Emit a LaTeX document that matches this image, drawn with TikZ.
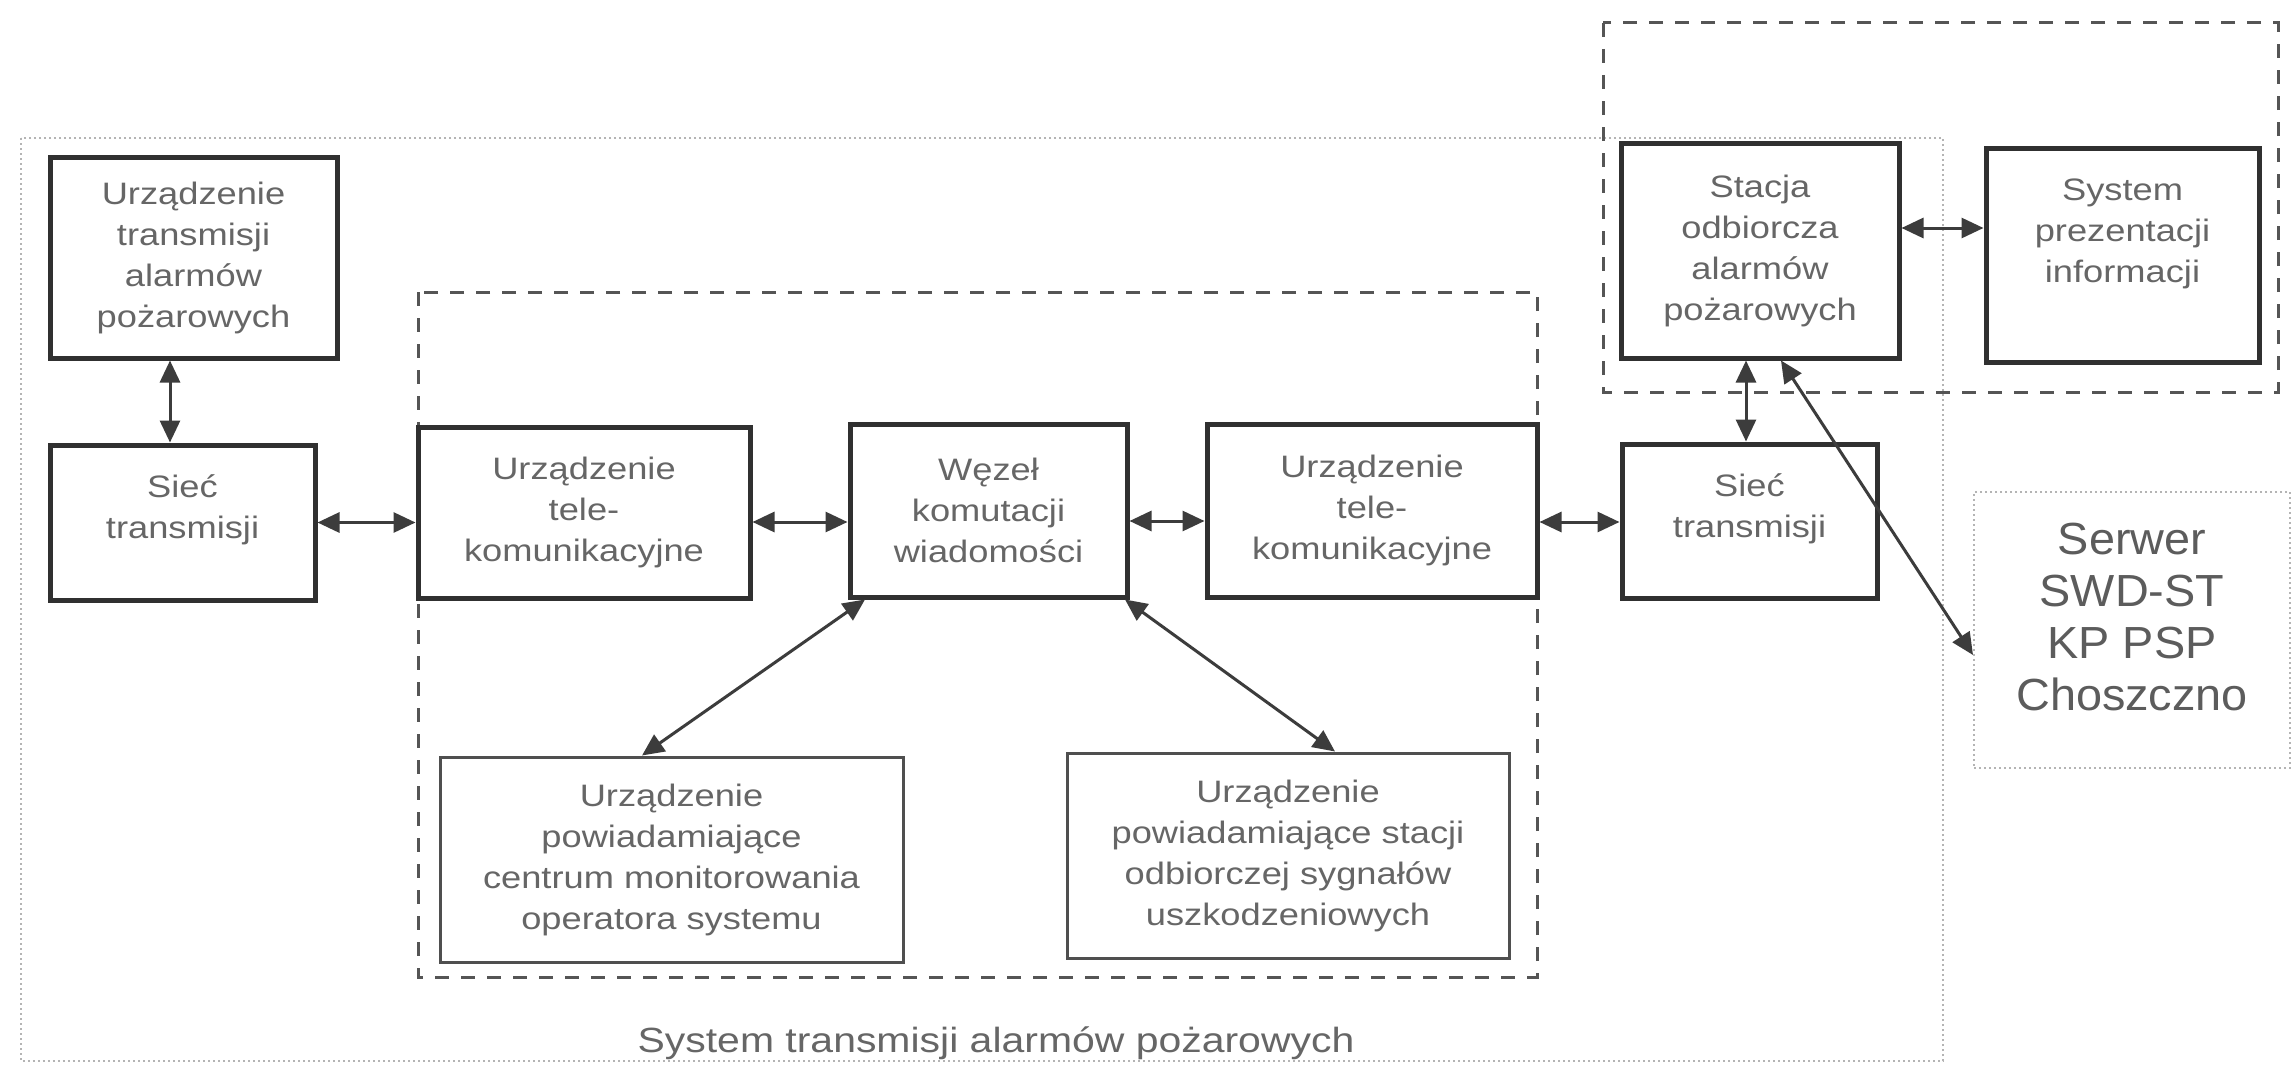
\documentclass[tikz,border=0pt]{standalone}
\usepackage{fontspec}
\setmainfont{Liberation Sans}[FakeStretch=1.17]
\newfontfamily\srvfont{Liberation Sans}[FakeStretch=1.04]
\usetikzlibrary{arrows.meta}
\definecolor{bordc}{HTML}{303030}
\definecolor{txtc}{HTML}{666666}
\definecolor{arrc}{HTML}{3C3C3C}
\definecolor{dashc}{HTML}{555555}
\definecolor{dotc}{HTML}{B4B4B4}
\tikzset{
  blk/.style={draw=bordc, line width=5pt, fill=white, align=center, text=txtc,
    font=\fontsize{31}{41}\selectfont},
  thinblk/.style={blk, line width=3pt, draw=bordc!85},
  srvbox/.style={draw=dotc, line width=2pt, dash pattern=on 2pt off 3pt, fill=white,
    align=center, text=txtc!90!black, font=\srvfont\fontsize{45}{52}\selectfont},
  caption/.style={text=txtc, font=\fontsize{35}{40}\selectfont, inner sep=0pt},
  conn/.style={{Triangle[length=22pt,width=20pt]}-{Triangle[length=22pt,width=20pt]},
    line width=3pt, draw=arrc},
  dashframe/.style={draw=dashc, line width=3pt, dash pattern=on 14pt off 12pt},
  dotframe/.style={draw=dotc, line width=2pt, dash pattern=on 2pt off 3pt}
}
\begin{document}
\begin{tikzpicture}[x=1pt,y=-1pt]
\useasboundingbox[fill=white] (0,0) rectangle (2295,1065);
% frames
\draw[dotframe] (21,138) rectangle (1943,1061);
\draw[dashframe] (418,292) rectangle (1537,977);
\draw[dashframe] (1603,23) rectangle (2278,392);
% boxes
\node[blk, minimum width=287pt, minimum height=201pt] (utap) at (193.5,257.5)
  {Urządzenie\\transmisji\\alarmów\\pożarowych};
\node[blk, minimum width=265pt, minimum height=155pt, text depth=31.5pt] (siec1) at (182.5,522.5)
  {Sieć\\transmisji};
\node[blk, minimum width=332pt, minimum height=171pt] (tele1) at (584,512.5)
  {Urządzenie\\tele-\\komunikacyjne};
\node[blk, minimum width=277pt, minimum height=173pt] (wezel) at (988.5,510.5)
  {Węzeł\\komutacji\\wiadomości};
\node[blk, minimum width=330pt, minimum height=173pt] (tele2) at (1372,510.5)
  {Urządzenie\\tele-\\komunikacyjne};
\node[blk, minimum width=255pt, minimum height=154pt, text depth=31.5pt] (siec2) at (1749.5,521)
  {Sieć\\transmisji};
\node[blk, minimum width=278pt, minimum height=215pt] (stacja) at (1760,250.5)
  {Stacja\\odbiorcza\\alarmów\\pożarowych};
\node[blk, minimum width=273pt, minimum height=214pt, text depth=48.5pt] (system) at (2122.5,255)
  {System\\prezentacji\\informacji};
\node[thinblk, minimum width=463pt, minimum height=205pt] (pow1) at (671.5,859.5)
  {Urządzenie\\powiadamiające\\centrum monitorowania\\operatora systemu};
\node[thinblk, minimum width=442pt, minimum height=205pt] (pow2) at (1288,855.5)
  {Urządzenie\\powiadamiające stacji\\odbiorczej sygnałów\\uszkodzeniowych};
\node[srvbox, minimum width=316pt, minimum height=276pt, text depth=27pt] (serwer) at (2132,630)
  {Serwer\\SWD-ST\\KP PSP\\Choszczno};
\node[caption, anchor=base] (capt) at (996,1052) {System transmisji alarmów pożarowych};
% connectors
\draw[conn] ([xshift=-23.5pt]utap.south) -- ([xshift=-12.5pt]siec1.north);
\draw[conn] (siec1.east) -- ([yshift=-10pt]tele1.west);
\draw[conn] ([yshift=-9.5pt]tele1.east) -- ([yshift=-11.5pt]wezel.west);
\draw[conn] ([yshift=-10.5pt]wezel.east) -- ([yshift=-10.5pt]tele2.west);
\draw[conn] ([yshift=-11.5pt]tele2.east) -- ([yshift=-1pt]siec2.west);
\draw[conn] ([yshift=22.5pt]stacja.east) -- ([yshift=27pt]system.west);
\draw[conn] ([xshift=-14pt]stacja.south) -- ([xshift=-3.5pt]siec2.north);
\draw[conn] ([xshift=21pt]stacja.south) -- ([yshift=-25pt]serwer.west);
\draw[conn] ([xshift=-123.5pt]wezel.south) -- ([xshift=-29.5pt]pow1.north);
\draw[conn] ([xshift=136.5pt]wezel.south) -- ([xshift=47pt]pow2.north);
\end{tikzpicture}
\end{document}
